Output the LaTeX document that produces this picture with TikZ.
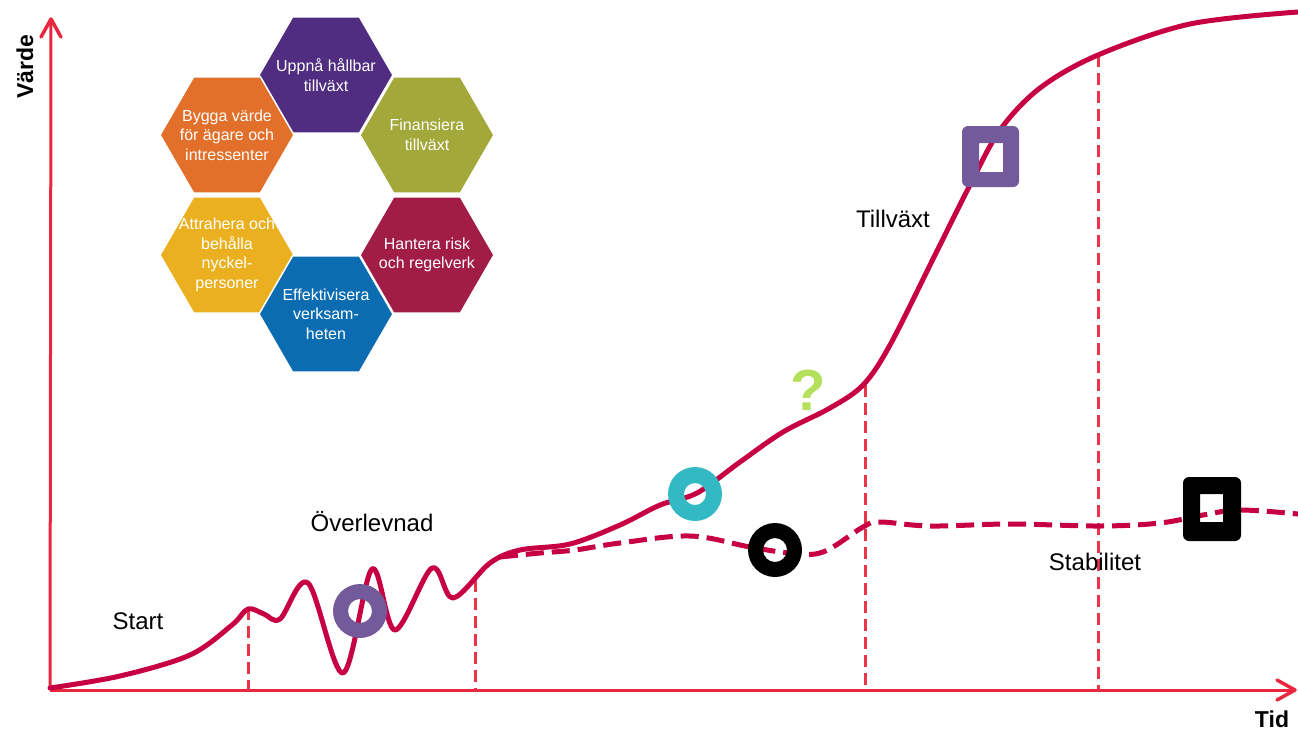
\documentclass[tikz,border=0pt]{standalone}
\usepackage{fontspec}
\setmainfont{Liberation Sans}
\usetikzlibrary{shapes.geometric}

\definecolor{axisred}{RGB}{232,40,62}
\definecolor{curvered}{RGB}{198,0,66}
\definecolor{phasered}{RGB}{234,52,74}
\definecolor{hexpurple}{RGB}{80,45,128}
\definecolor{hexorange}{RGB}{226,112,42}
\definecolor{hexgreen}{RGB}{162,168,58}
\definecolor{hexyellow}{RGB}{234,176,32}
\definecolor{hexcrimson}{RGB}{162,28,72}
\definecolor{hexblue}{RGB}{12,108,178}
\definecolor{markpurple}{RGB}{115,90,155}
\definecolor{markcyan}{RGB}{50,185,196}
\definecolor{askgreen}{RGB}{180,224,92}

\tikzset{
  hexa/.style={regular polygon,regular polygon sides=6,minimum size=134pt,inner sep=0pt,draw=white,line width=1.5pt},
  hextext/.style={text=white,align=center,inner sep=0pt,font=\fontsize{16}{19.5}\selectfont},
  phaselbl/.style={font=\fontsize{24}{28}\selectfont},
  axislbl/.style={font=\bfseries\fontsize{23}{27}\selectfont},
  axis/.style={axisred,line width=3pt},
  axishead/.style={axisred,line width=3.5pt,line cap=round},
  phase/.style={phasered,line width=3pt,dash pattern=on 12pt off 6pt},
  valuecurve/.style={curvered,line width=5pt,line cap=round},
  stablecurve/.style={curvered,line width=5pt,dash pattern=on 18pt off 8pt},
}

\begin{document}
\begin{tikzpicture}[yscale=-1,x=1pt,y=1pt,every path/.style={line join=round}]
  \useasboundingbox (0,0) rectangle (1298,732);

  % axes
  \coordinate (origin) at (50,690);
  \coordinate (ytop) at (51,19);
  \coordinate (xend) at (1295,690);
  \draw[axis] (origin) -- (ytop);
  \draw[axis] (origin) -- (xend);
  \draw[axishead] ([shift={(-10,18)}]ytop) -- (ytop) -- ([shift={(10,18)}]ytop);
  \draw[axishead] ([shift={(-18,-10)}]xend) -- (xend) -- ([shift={(-18,10)}]xend);
  \node[axislbl,rotate=90] (vlabel) at (25,67) {Värde};
  \node[axislbl] (tlabel) at (1272,719) {Tid};

  % phase borders
  \coordinate (p1) at (248,608);
  \coordinate (p2) at (475,580);
  \coordinate (p3) at (865,385);
  \coordinate (p4) at (1098,55);
  \draw[phase] (p1) -- (p1 |- origin);
  \draw[phase] (p2) -- (p2 |- origin);
  \draw[phase] (p3) -- (p3 |- origin);
  \draw[phase] (p4) -- (p4 |- origin);

  % value curves
  \draw[stablecurve] plot[smooth,tension=0.6] coordinates {(500,557) (540,553) (575,550) (620,543) (690,536) (750,547) (790,553) (823,552) (863,527) (880,522) (930,526) (1010,524) (1100,526) (1160,523) (1203,515) (1240,510) (1298,514)};
  \draw[valuecurve] plot[smooth,tension=0.55] coordinates {(50,688) (120,676) (190,655) (232,625) (248,609) (264,614) (280,619) (308,583) (343,673) (372,569) (395,630) (432,568) (453,598) (490,563) (520,550) (570,544) (620,525) (660,505) (697,493) (740,462) (783,432) (830,408) (863,385) (890,345) (935,255) (970,185) (1000,130) (1040,88) (1098,55) (1190,24) (1298,12)};

  % markers
  \fill[markpurple,even odd rule] (360,611) circle (27pt) circle (12pt);
  \fill[markcyan,even odd rule] (695,494) circle (27pt) circle (11pt);
  \fill[black,even odd rule] (775,550) circle (27pt) circle (12pt);
  \fill[markpurple,even odd rule,rounded corners=6pt] (962,126) rectangle (1019,187) [sharp corners] (979,143) rectangle (1003,172);
  \fill[black,even odd rule,rounded corners=6pt] (1183,477) rectangle (1241,541) [sharp corners] (1200,494) rectangle (1223,522);
  \node[askgreen,font=\bfseries\fontsize{58}{62}\selectfont] (ask) at (808,390) {?};

  % phase names
  \node[phaselbl] (start) at (138,621) {Start};
  \node[phaselbl] (survive) at (372,522) {Överlevnad};
  \node[phaselbl] (growth) at (893,219) {Tillväxt};
  \node[phaselbl] (stable) at (1095,562) {Stabilitet};

  % goals
  \node[hexa,fill=hexpurple] (h1) at (326,75) {};
  \node[hexa,fill=hexorange] (h2) at (227,135) {};
  \node[hexa,fill=hexgreen] (h3) at (427,135) {};
  \node[hexa,fill=hexyellow] (h4) at (227,255) {};
  \node[hexa,fill=hexcrimson] (h5) at (427,255) {};
  \node[hexa,fill=hexblue] (h6) at (326,314) {};
  \node[hextext] (g1) at (h1) {Uppnå hållbar\\tillväxt};
  \node[hextext] (g2) at (h2) {Bygga värde\\för ägare och\\intressenter};
  \node[hextext] (g3) at (h3) {Finansiera\\tillväxt};
  \node[hextext] (g4) at (h4) {Attrahera och\\behålla\\nyckel-\\personer};
  \node[hextext] (g5) at (h5) {Hantera risk\\och regelverk};
  \node[hextext] (g6) at (h6) {Effektivisera\\verksam-\\heten};
\end{tikzpicture}
\end{document}
